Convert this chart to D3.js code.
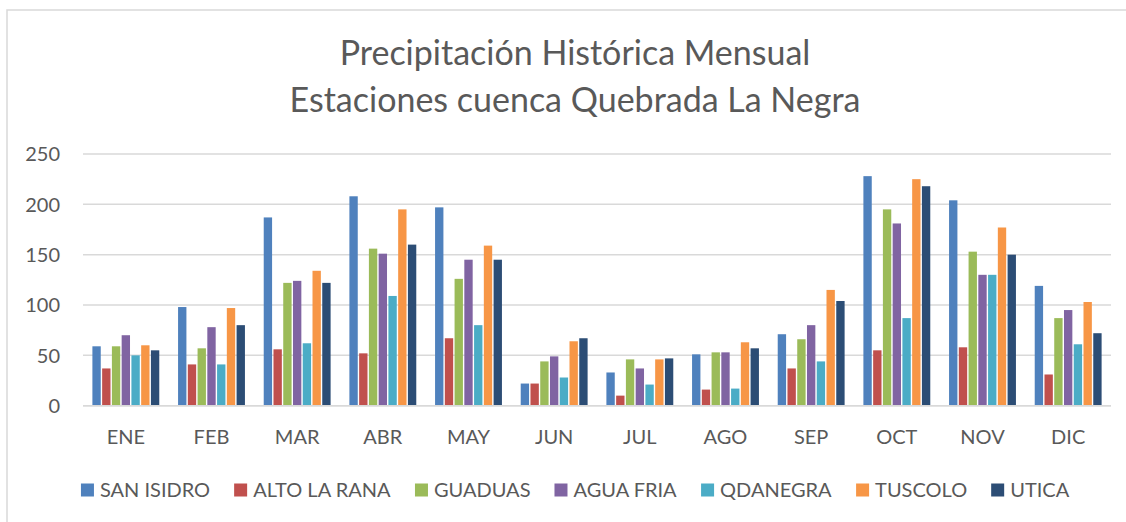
<!DOCTYPE html>
<html>
<head>
<meta charset="utf-8">
<script src="https://cdn.jsdelivr.net/npm/d3@7"></script>
<style>
  html, body { margin: 0; padding: 0; background: #fff; }
  svg { display: block; }
  text { font-family: "Lato", "Open Sans", sans-serif; fill: #595959; }
</style>
</head>
<body>
<svg id="chart" width="1126" height="522"></svg>
<script>
const months = ["ENE","FEB","MAR","ABR","MAY","JUN","JUL","AGO","SEP","OCT","NOV","DIC"];
const stations = ["SAN ISIDRO","ALTO LA RANA","GUADUAS","AGUA FRIA","QDANEGRA","TUSCOLO","UTICA"];
const sanIsidro  = [59, 98, 187, 208, 197, 22, 33, 51, 71, 228, 204, 119];
const altoLaRana = [37, 41, 56, 52, 67, 22, 10, 16, 37, 55, 58, 31];
const guaduas    = [59, 57, 122, 156, 126, 44, 46, 53, 66, 195, 153, 87];
const aguaFria   = [70, 78, 124, 151, 145, 49, 37, 53, 80, 181, 130, 95];
const qdanegra   = [50, 41, 62, 109, 80, 28, 21, 17, 44, 87, 130, 61];
const tuscolo    = [60, 97, 134, 195, 159, 64, 46, 63, 115, 225, 177, 103];
const utica      = [55, 80, 122, 160, 145, 67, 47, 57, 104, 218, 150, 72];
const yTicks = [0, 50, 100, 150, 200, 250];
const titleLines = ["Precipitación Histórica Mensual", "Estaciones cuenca Quebrada La Negra"];
const colors = ["#4F81BD","#C0504D","#9BBB59","#8064A2","#4BACC6","#F79646","#2C4D75"];

const series = [sanIsidro, altoLaRana, guaduas, aguaFria, qdanegra, tuscolo, utica];

const svg = d3.select("#chart");

// chart frame
svg.append("rect")
  .attr("x", 7).attr("y", 10)
  .attr("width", 1140).attr("height", 540)
  .attr("fill", "none").attr("stroke", "#d9d9d9").attr("stroke-width", 1.5);

const plot = { left: 83, right: 1111, top: 154, bottom: 405.7 };

const x0 = d3.scaleBand().domain(months)
  .range([plot.left, plot.right]).paddingInner(0.203).paddingOuter(0.1015);
const x1 = d3.scaleBand().domain(stations).range([0, x0.bandwidth()]).padding(0);
const y = d3.scaleLinear().domain([0, 250]).range([plot.bottom, plot.top]);

// gridlines
svg.append("g").selectAll("line").data(yTicks).join("line")
  .attr("x1", plot.left).attr("x2", plot.right)
  .attr("y1", d => y(d)).attr("y2", d => y(d))
  .attr("stroke", "#d9d9d9").attr("stroke-width", 1.5);

// y labels
svg.append("g").selectAll("text").data(yTicks).join("text")
  .attr("x", 60).attr("y", d => y(d))
  .attr("dy", "0.36em")
  .attr("text-anchor", "end")
  .style("font-size", "20px")
  .text(d => d);

// bars
const groups = svg.append("g").selectAll("g").data(months).join("g")
  .attr("transform", m => `translate(${x0(m)},0)`);
groups.selectAll("rect")
  .data((m, i) => stations.map((s, j) => ({ s, j, v: series[j][i] })))
  .join("rect")
  .attr("x", d => x1(d.s) + 0.7)
  .attr("width", x1.bandwidth() - 1.4)
  .attr("y", d => y(d.v))
  .attr("height", d => y(0) - y(d.v))
  .attr("fill", d => colors[d.j]);

// baseline
svg.append("line")
  .attr("x1", plot.left).attr("x2", plot.right)
  .attr("y1", y(0)).attr("y2", y(0))
  .attr("stroke", "#d9d9d9").attr("stroke-width", 1.5);

// x labels
svg.append("g").selectAll("text").data(months).join("text")
  .attr("x", m => x0(m) + x0.bandwidth() / 2)
  .attr("y", 444)
  .attr("text-anchor", "middle")
  .style("font-size", "20px")
  .text(m => m);

// title
svg.append("g").selectAll("text").data(titleLines).join("text")
  .attr("x", 575)
  .attr("y", (d, i) => 65 + i * 47)
  .attr("text-anchor", "middle")
  .style("font-size", "34px")
  .text(d => d);

// legend
const legend = svg.append("g");
const items = legend.selectAll("g").data(stations).join("g");
items.append("rect").attr("width", 13).attr("height", 13).attr("y", -13.5)
  .attr("fill", (d, i) => colors[i]);
items.append("text").attr("x", 19).attr("y", 0)
  .style("font-size", "20px")
  .text(d => d);
let widths = [];
items.each(function () { widths.push(this.getBBox().width); });
const gap = 24;
const total = d3.sum(widths) + gap * (widths.length - 1);
let cx = 575.3 - total / 2;
items.attr("transform", (d, i) => {
  const t = `translate(${cx},497)`;
  cx += widths[i] + gap;
  return t;
});
</script>
</body>
</html>
